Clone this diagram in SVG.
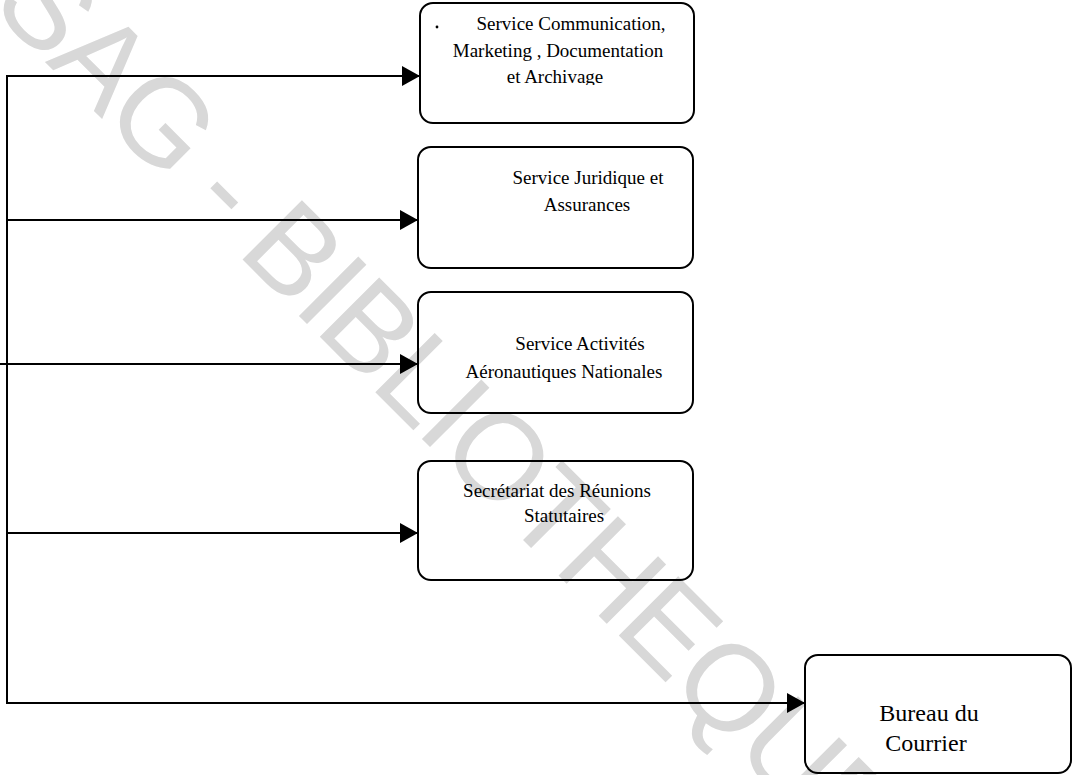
<svg xmlns="http://www.w3.org/2000/svg" width="1077" height="775" viewBox="0 0 1077 775">
  <style>
    .box { fill: none; stroke: #000; stroke-width: 2; }
    .lbl { font-family: "Liberation Serif", "DejaVu Serif", serif; font-size: 19px; fill: #000; text-anchor: middle; }
    .lbl2 { font-family: "Liberation Serif", "DejaVu Serif", serif; font-size: 24px; fill: #000; text-anchor: middle; }
    .wire { fill: none; stroke: #000; stroke-width: 2; }
    .mark { font-family: "Liberation Sans", "Arial", sans-serif; font-size: 122px; letter-spacing: -3px; fill: #d8d8d8; }
  </style>
  <defs>
    <marker id="arrow" markerUnits="userSpaceOnUse" markerWidth="20" markerHeight="22" refX="18" refY="10" orient="auto">
      <path d="M0,0 L18,10 L0,20 Z" fill="#000"/>
    </marker>
    <clipPath id="clip-top">
      <rect x="420" y="0" width="276" height="85"/>
    </clipPath>
  </defs>
  <rect width="1077" height="775" fill="#fff"/>

  <!-- background stamp -->
  <g id="stamp">
    <text class="mark" transform="rotate(45)" x="-3" y="12">SAG - BIBLIOTHEQUE</text>
  </g>

  <!-- connectors -->
  <g id="connectors">
    <path class="wire" d="M7,703 V76 H420" marker-end="url(#arrow)"/>
    <path class="wire" d="M7,220 H418" marker-end="url(#arrow)"/>
    <path class="wire" d="M0,364 H418" marker-end="url(#arrow)"/>
    <path class="wire" d="M7,533 H418" marker-end="url(#arrow)"/>
    <path class="wire" d="M7,702 V703 H805" marker-end="url(#arrow)"/>
  </g>

  <g id="node-communication">
    <rect class="box" x="420" y="3" width="274" height="120" rx="13"/>
    <circle cx="437" cy="27" r="1.4" fill="#000"/>
    <g clip-path="url(#clip-top)">
      <text class="lbl" x="571" y="30">Service Communication,</text>
      <text class="lbl" x="558" y="57">Marketing , Documentation</text>
      <text class="lbl" x="555" y="83">et Archivage</text>
    </g>
  </g>

  <g id="node-juridique">
    <rect class="box" x="418" y="147" width="275" height="121" rx="13"/>
    <text class="lbl" x="588" y="184">Service Juridique et</text>
    <text class="lbl" x="587" y="211">Assurances</text>
  </g>

  <g id="node-activites">
    <rect class="box" x="418" y="292" width="275" height="121" rx="13"/>
    <text class="lbl" x="580" y="350">Service Activités</text>
    <text class="lbl" x="564" y="378">Aéronautiques Nationales</text>
  </g>

  <g id="node-secretariat">
    <rect class="box" x="418" y="461" width="275" height="119" rx="13"/>
    <text class="lbl" x="557" y="497">Secrétariat des Réunions</text>
    <text class="lbl" x="564" y="522">Statutaires</text>
  </g>

  <g id="node-courrier">
    <rect class="box" x="805" y="655" width="266" height="118" rx="13"/>
    <text class="lbl2" x="929" y="721">Bureau du</text>
    <text class="lbl2" x="926" y="751">Courrier</text>
  </g>
</svg>
